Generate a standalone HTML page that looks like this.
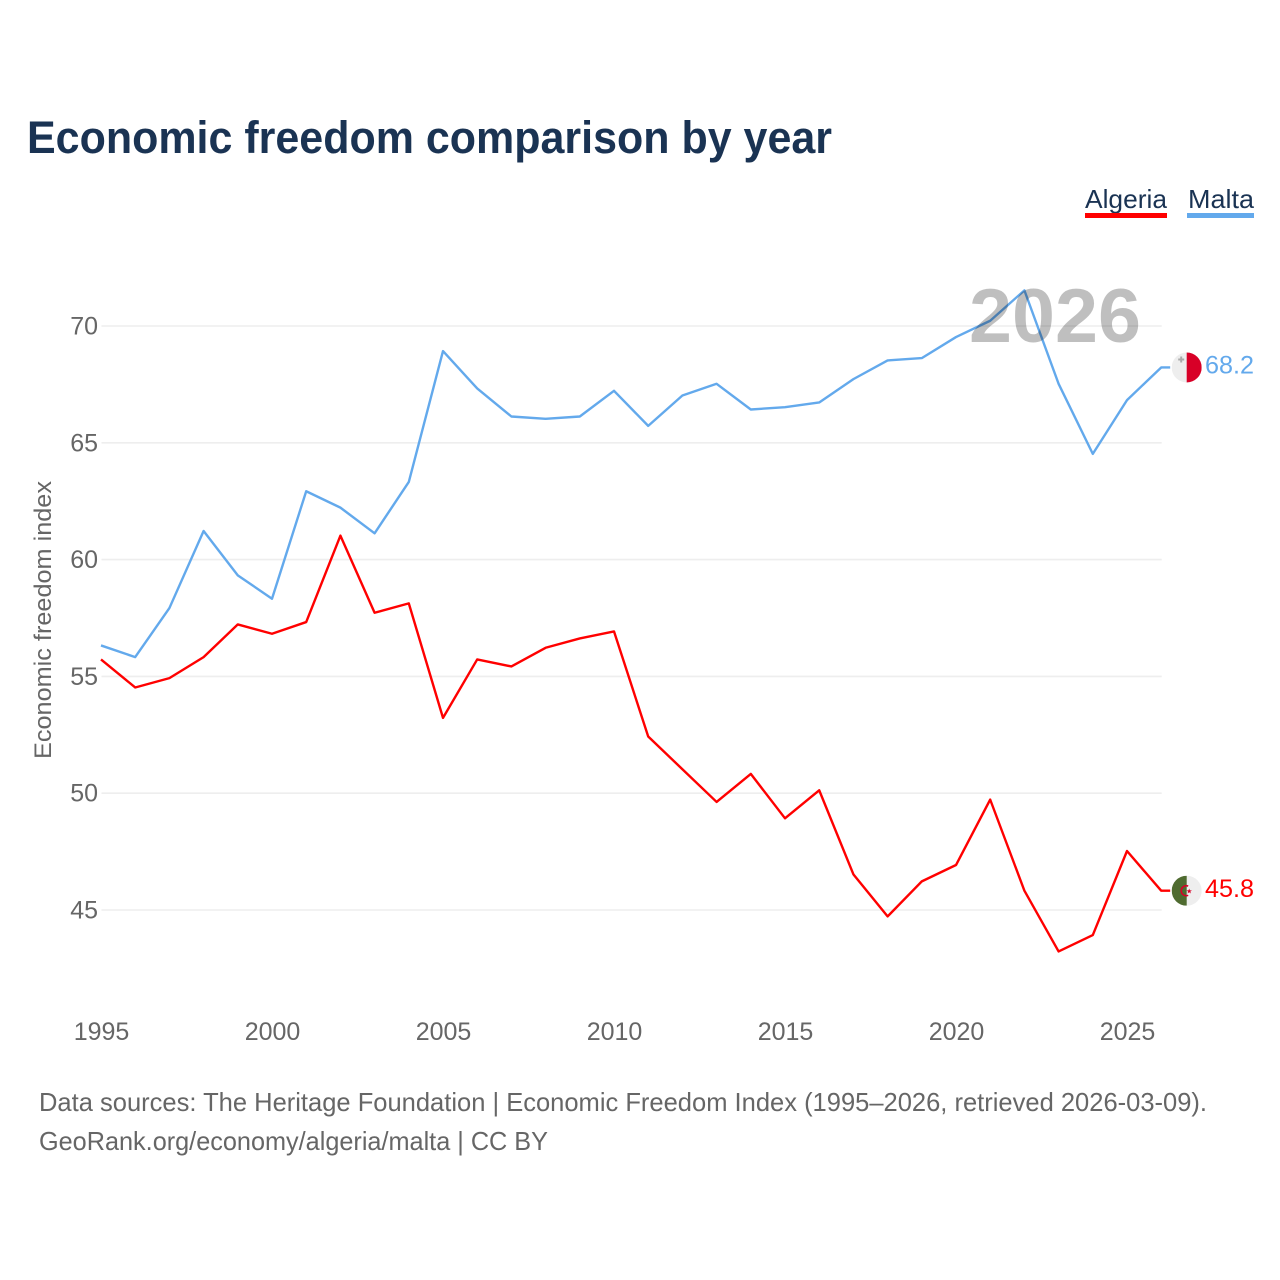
<!DOCTYPE html>
<html lang="en">
<head>
<meta charset="utf-8">
<title>Economic freedom comparison by year</title>
<style>
html,body{margin:0;padding:0;background:#fff;width:1280px;height:1280px;overflow:hidden}
svg{display:block}
text{font-family:"Liberation Sans",sans-serif}
</style>
</head>
<body>
<svg id="chart" xmlns="http://www.w3.org/2000/svg" width="1280" height="1280" viewBox="0 0 1280 1280">
  <defs>
    <clipPath id="malta-clip"><circle id="malta-clip-circle" r="15"></circle></clipPath>
    <clipPath id="algeria-clip"><circle id="algeria-clip-circle" r="15"></circle></clipPath>
  </defs>
  <rect width="1280" height="1280" fill="#fff"></rect>
  <text x="27" y="153" font-size="45" font-weight="700" fill="#1a3353" textLength="805" lengthAdjust="spacingAndGlyphs">Economic freedom comparison by year</text>
  <g id="grid"></g>
  <g id="y-ticks"></g>
  <g id="x-ticks"></g>
  <text transform="translate(51,620) rotate(-90)" text-anchor="middle" font-size="24" fill="#666" textLength="278" lengthAdjust="spacingAndGlyphs">Economic freedom index</text>
  <g id="series" transform="translate(-0.5,-0.6)"></g>
  <text id="year-watermark" x="1141" y="342" text-anchor="end" font-size="76" font-weight="700" fill="#000" fill-opacity="0.25" textLength="172" lengthAdjust="spacingAndGlyphs">2026</text>

  <g id="malta-flag">
    <g clip-path="url(#malta-clip)">
      <rect x="-15" y="-15" width="30" height="30" fill="#eeeeee"></rect>
      <rect x="0" y="-15" width="15" height="30" fill="#d80027"></rect>
      <path d="M-6.5,-9.5h2v-2h2v2h2v2h-2v2h-2v-2h-2z" transform="translate(-2,0.5)" fill="#aaa"></path>
    </g>
  </g>
  <g id="algeria-flag">
    <g clip-path="url(#algeria-clip)">
      <rect x="-15" y="-15" width="30" height="30" fill="#eeeeee"></rect>
      <rect x="-15" y="-15" width="15" height="30" fill="#4f6b30"></rect>
      <path d="M1.5,-4.6 A5,5 0 1 0 1.5,4.6" fill="none" stroke="#d80027" stroke-width="1.6"></path>
      <path d="M2.5,-2.2 L3.2,-0.3 L5.2,-0.3 L3.6,0.9 L4.2,2.8 L2.5,1.6 L0.8,2.8 L1.4,0.9 L-0.2,-0.3 L1.8,-0.3 Z" fill="#d80027"></path>
    </g>
  </g>
  <text id="malta-value" x="1205" font-size="25" fill="#63a9ec" textLength="49" lengthAdjust="spacingAndGlyphs"></text>
  <text id="algeria-value" x="1205" font-size="25" fill="#ff0000" textLength="49" lengthAdjust="spacingAndGlyphs"></text>

  <g>
    <text x="1085" y="208" font-size="26" fill="#1a3353" textLength="82" lengthAdjust="spacingAndGlyphs">Algeria</text>
    <rect x="1085" y="213" width="82" height="5" fill="#ff0000"></rect>
  </g>
  <g>
    <text x="1188" y="208" font-size="26" fill="#1a3353" textLength="66" lengthAdjust="spacingAndGlyphs">Malta</text>
    <rect x="1187" y="213" width="67" height="5" fill="#63a9ec"></rect>
  </g>

  <text x="39" y="1111" font-size="26" fill="#666" textLength="1168" lengthAdjust="spacingAndGlyphs">Data sources: The Heritage Foundation | Economic Freedom Index (1995–2026, retrieved 2026-03-09).</text>
  <text x="39" y="1150" font-size="26" fill="#666" textLength="509" lengthAdjust="spacingAndGlyphs">GeoRank.org/economy/algeria/malta | CC BY</text>
</svg>
<script>
const years = [1995,1996,1997,1998,1999,2000,2001,2002,2003,2004,2005,2006,2007,2008,2009,2010,2011,2012,2013,2014,2015,2016,2017,2018,2019,2020,2021,2022,2023,2024,2025,2026];
const malta = [56.3,55.8,57.9,61.2,59.3,58.3,62.9,62.2,61.1,63.3,68.9,67.3,66.1,66.0,66.1,67.2,65.7,67.0,67.5,66.4,66.5,66.7,67.7,68.5,68.6,69.5,70.2,71.5,67.5,64.5,66.8,68.2];
const algeria = [55.7,54.5,54.9,55.8,57.2,56.8,57.3,61.0,57.7,58.1,53.2,55.7,55.4,56.2,56.6,56.9,52.4,51.0,49.6,50.8,48.9,50.1,46.5,44.7,46.2,46.9,49.7,45.8,43.2,43.9,47.5,45.8];
const yTicks = [45,50,55,60,65,70];
const xTicks = [1995,2000,2005,2010,2015,2020,2025];

const NS = 'http://www.w3.org/2000/svg';
function xScale(year){ return 101.5 + (year - 1995) * (1127.5 - 101.5) / 30; }
function yScale(v){ return 326 + (70 - v) * (910 - 326) / 25; }

const gridGroup = document.getElementById('grid');
const yGroup = document.getElementById('y-ticks');
const xGroup = document.getElementById('x-ticks');
const seriesGroup = document.getElementById('series');

yTicks.forEach(function(t){
  const line = document.createElementNS(NS,'line');
  
  
  line.setAttribute('x1', xScale(years[0]));
  line.setAttribute('x2', xScale(years[years.length-1]));
  line.setAttribute('y1', yScale(t));
  line.setAttribute('y2', yScale(t));
  line.setAttribute('stroke', '#eeeeee');
  line.setAttribute('stroke-width', '1.6');
  gridGroup.appendChild(line);

  const label = document.createElementNS(NS,'text');
  
  
  label.setAttribute('x', 98);
  label.setAttribute('y', yScale(t) + 8.5);
  label.setAttribute('text-anchor', 'end');
  label.setAttribute('font-size', '25');
  label.setAttribute('fill', '#666');
  label.textContent = t;
  yGroup.appendChild(label);
});

xTicks.forEach(function(t){
  const label = document.createElementNS(NS,'text');
  
  
  label.setAttribute('x', xScale(t));
  label.setAttribute('y', 1040);
  label.setAttribute('text-anchor', 'middle');
  label.setAttribute('font-size', '25');
  label.setAttribute('fill', '#666');
  label.textContent = t;
  xGroup.appendChild(label);
});

function pathFor(values){
  const last = values[values.length-1];
  return values.map(function(v,i){
    return (i ? 'L' : 'M') + xScale(years[i]).toFixed(2) + ',' + yScale(v).toFixed(2);
  }).join(' ') + ' L' + (xScale(years[years.length-1]) + 9).toFixed(2) + ',' + yScale(last).toFixed(2);
}

const algeriaLine = document.createElementNS(NS,'path');


algeriaLine.setAttribute('d', pathFor(algeria));
algeriaLine.setAttribute('fill', 'none');
algeriaLine.setAttribute('stroke', '#ff0000');
algeriaLine.setAttribute('stroke-width', '2.4');
algeriaLine.setAttribute('stroke-linejoin', 'round');
seriesGroup.appendChild(algeriaLine);

const maltaLine = document.createElementNS(NS,'path');


maltaLine.setAttribute('d', pathFor(malta));
maltaLine.setAttribute('fill', 'none');
maltaLine.setAttribute('stroke', '#63a9ec');
maltaLine.setAttribute('stroke-width', '2.4');
maltaLine.setAttribute('stroke-linejoin', 'round');
seriesGroup.appendChild(maltaLine);

const maltaLast = malta[malta.length-1];
const algeriaLast = algeria[algeria.length-1];
const flagX = xScale(years[years.length-1]) + 25;

function placeEnd(flagId, clipId, valueId, v){
  const y = yScale(v) - 0.6;
  document.getElementById(flagId).setAttribute('transform', 'translate(' + flagX + ',' + y + ')');
  const c = document.getElementById(clipId);
  c.setAttribute('cx', 0);
  c.setAttribute('cy', 0);
  const t = document.getElementById(valueId);
  t.setAttribute('y', y + 6.3);
  t.textContent = v.toFixed(1);
}
placeEnd('malta-flag', 'malta-clip-circle', 'malta-value', maltaLast);
placeEnd('algeria-flag', 'algeria-clip-circle', 'algeria-value', algeriaLast);
</script>
</body>
</html>
